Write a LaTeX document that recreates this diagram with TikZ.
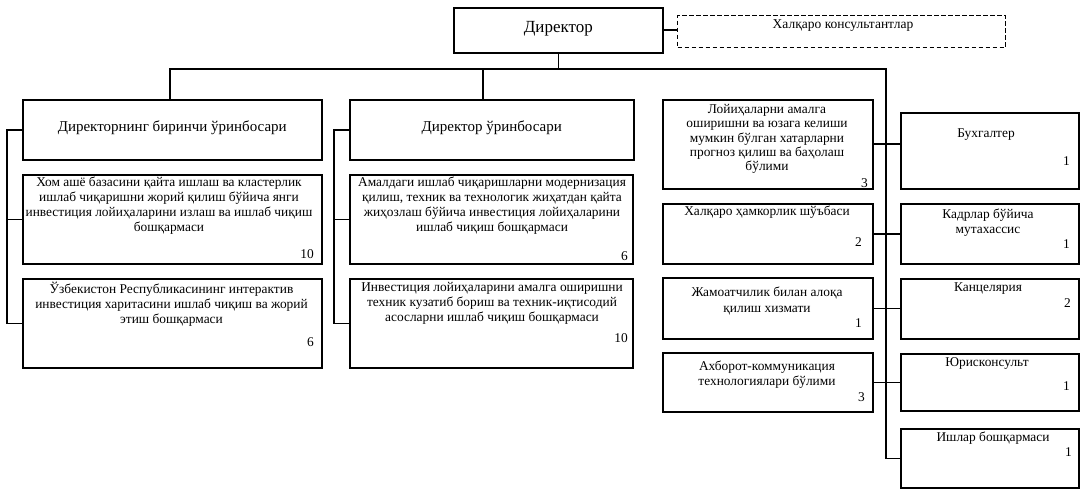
\documentclass[tikz,border=0pt]{standalone}
\usepackage{fontspec}
\setmainfont{Liberation Serif}
\begin{document}
\begin{tikzpicture}[x=1pt,y=-1pt]
\tikzset{
 box/.style={draw, line width=1.6pt, inner sep=0pt, anchor=north west},
 dbox/.style={box, line width=1.4pt, dash pattern=on 4.5pt off 2.5pt},
 txt/.style={anchor=north, align=center, inner sep=0pt, font=\fontsize{13.4}{15}\selectfont},
 num/.style={anchor=base east, inner sep=0pt, font=\fontsize{13.4}{15}\selectfont},
 hdr/.style={inner sep=0pt, font=\fontsize{15}{18}\selectfont},
 link/.style={line width=1.6pt},
}
\useasboundingbox (0,0) rectangle (1085,492);
\newcommand\bx[6][box]{\node[#1, minimum width=#5pt, minimum height=#6pt] (#2) at (#3,#4) {};}
% boxes
\bx{dir}{453}{7}{209}{45}
\bx[dbox]{cons}{677}{15}{328}{32}
\bx{lh}{22}{99}{299}{60}
\bx{ls1}{22}{174}{299}{89}
\bx{ls2}{22}{278}{299}{89}
\bx{mh}{349}{99}{284}{60}
\bx{ms1}{349}{174}{283}{89}
\bx{ms2}{349}{278}{283}{89}
\bx{lr1}{662}{99}{210}{89}
\bx{lr2}{662}{203}{210}{60}
\bx{lr3}{662}{277}{210}{61}
\bx{lr4}{662}{352}{210}{59}
\bx{rr1}{900}{112}{178}{76}
\bx{rr2}{900}{203}{178}{60}
\bx{rr3}{900}{278}{178}{60}
\bx{rr4}{900}{353}{178}{57}
\bx{rr5}{900}{428}{178}{59}
% texts
\node[hdr, font=\fontsize{17}{20}\selectfont] (dir-t) at ([yshift=2pt]dir.center) {Директор};
\node[txt, font=\fontsize{13.5}{15}\selectfont] (cons-t) at (843,19) {Халқаро консультантлар};
\node[hdr] (lh-t) at ([yshift=2pt]lh.center) {Директорнинг биринчи ўринбосари};
\node[hdr] (mh-t) at ([yshift=2pt]mh.center) {Директор ўринбосари};
\node[txt] (ls1-t) at (169,177) {Хом ашё базасини қайта ишлаш ва кластерлик\\ишлаб чиқаришни жорий қилиш бўйича янги\\инвестиция лойиҳаларини излаш ва ишлаб чиқиш\\бошқармаси};
\node[num] (ls1-n) at (314,258) {10};
\node[txt] (ls2-t) at (171.5,282) {Ўзбекистон Республикасининг интерактив\\инвестиция харитасини ишлаб чиқиш ва жорий\\этиш бошқармаси};
\node[num] (ls2-n) at (314,346) {6};
\node[txt] (ms1-t) at (492,177) {Амалдаги ишлаб чиқаришларни модернизация\\қилиш, техник ва технологик жиҳатдан қайта\\жиҳозлаш бўйича инвестиция лойиҳаларини\\ишлаб чиқиш бошқармаси};
\node[num] (ms1-n) at (628,260) {6};
\node[txt] (ms2-t) at (492,282) {Инвестиция лойиҳаларини амалга оширишни\\техник кузатиб бориш ва техник-иқтисодий\\асосларни ишлаб чиқиш бошқармаси};
\node[num] (ms2-n) at (628,342) {10};
\node[txt, font=\fontsize{13.4}{14.4}\selectfont] (lr1-t) at (767,104) {Лойиҳаларни амалга\\оширишни ва юзага келиши\\мумкин бўлган хатарларни\\прогноз қилиш ва баҳолаш\\бўлими};
\node[num] (lr1-n) at (868,187) {3};
\node[txt] (lr2-t) at (767,206) {Халқаро ҳамкорлик шўъбаси};
\node[num] (lr2-n) at (862,247) {2};
\node[txt, font=\fontsize{13.4}{16}\selectfont] (lr3-t) at (767,287) {Жамоатчилик билан алоқа\\қилиш хизмати};
\node[num] (lr3-n) at (862,327) {1};
\node[txt] (lr4-t) at (767,361) {Ахборот-коммуникация\\технологиялари бўлими};
\node[num] (lr4-n) at (865,401) {3};
\node[txt] (rr1-t) at (986,129) {Бухгалтер};
\node[num] (rr1-n) at (1070,166) {1};
\node[txt] (rr2-t) at (988,209) {Кадрлар бўйича\\мутахассис};
\node[num] (rr2-n) at (1070,248) {1};
\node[txt] (rr3-t) at (988,283) {Канцелярия};
\node[num] (rr3-n) at (1071,307) {2};
\node[txt] (rr4-t) at (987,357) {Юрисконсульт};
\node[num] (rr4-n) at (1070,390) {1};
\node[txt] (rr5-t) at (993,432) {Ишлар бошқармаси};
\node[num] (rr5-n) at (1072,456) {1};
% connectors
\coordinate (busL) at (170,69);
\coordinate (busM) at (483,69);
\coordinate (busR) at (886,69);
\coordinate (brL) at (7,0);
\coordinate (brM) at (334,0);
\draw[link] (dir.east) -- (dir.east -| cons.west);
\draw[link] (dir.south) -- (dir.south |- busL);
\draw[link] (lh.north -| busL) -- (busL) -- (busR) |- (rr5.west);
\draw[link] (busM) -- (busM |- mh.north);
\draw[link] (lh.west) -- (lh.west -| brL) -- (ls2.west -| brL) -- (ls2.west);
\draw[link] (ls1.west) -- (ls1.west -| brL);
\draw[link] (mh.west) -- (mh.west -| brM) -- (ms2.west -| brM) -- (ms2.west);
\draw[link] (ms1.west) -- (ms1.west -| brM);
\draw[link] (lr1.east) -- (lr1.east -| rr1.west);
\draw[link] (lr2.east) -- (lr2.east -| rr2.west);
\draw[link] (lr3.east) -- (lr3.east -| rr3.west);
\draw[link] (lr4.east) -- (lr4.east -| rr4.west);
\end{tikzpicture}
\end{document}
